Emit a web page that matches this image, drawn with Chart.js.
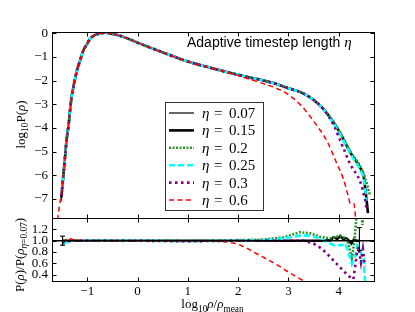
<!DOCTYPE html>
<html>
<head>
<meta charset="utf-8">
<script src="https://cdn.jsdelivr.net/npm/chart.js@4.4.1/dist/chart.umd.min.js"></script>
<style>
  html, body { margin: 0; padding: 0; background: #fff; }
</style>
</head>
<body>
<canvas id="c" width="415" height="312"></canvas>
<script>
// --- data ---
const etaLabels = ['0.07', '0.15', '0.2', '0.25', '0.3', '0.6'];

// common body of log10 P(rho), shared by all runs
const bodyX = [-1.50, -1.47, -1.44, -1.41, -1.37, -1.34, -1.31, -1.26, -1.21, -1.14, -1.075, -1.0, -0.94, -0.85, -0.74, -0.65, -0.55, -0.4, -0.2, 0, 0.25, 0.5, 0.75, 1.0, 1.25, 1.5, 1.75, 2.0, 2.25, 2.5, 2.75, 3.0, 3.25, 3.5, 3.7];
const bodyY = [-6.61, -5.91, -5.21, -4.51, -3.88, -3.24, -2.69, -2.12, -1.63, -1.14, -0.72, -0.45, -0.23, -0.08, -0.01, 0.02, 0.0, -0.08, -0.22, -0.40, -0.61, -0.81, -1.01, -1.20, -1.35, -1.49, -1.63, -1.76, -1.88, -2.0, -2.14, -2.33, -2.5, -2.82, -3.22];

// low-density heads and high-density tails per run
const head007X = [-1.52], head007Y = [-7.1];
const tail007X = [3.9, 4.06, 4.23, 4.43, 4.49, 4.56, 4.58];
const tail007Y = [-3.8, -4.37, -5.05, -5.72, -6.05, -7.3, -7.55];
const head015X = [-1.515], head015Y = [-6.95];
const tail015X = [3.9, 4.06, 4.23, 4.43, 4.49, 4.55, 4.58];
const tail015Y = [-3.78, -4.35, -5.05, -5.7, -6.0, -7.0, -7.6];
const head02X = [], head02Y = [];
const tail02X = [3.9, 4.06, 4.23, 4.43, 4.52, 4.62];
const tail02Y = [-3.76, -4.33, -5.0, -5.65, -6.1, -6.85];
const head025X = [], head025Y = [];
const tail025X = [3.9, 4.06, 4.23, 4.43, 4.5, 4.55];
const tail025Y = [-3.82, -4.4, -5.1, -5.8, -6.2, -7.1];
const head03X = [-1.51], head03Y = [-6.85];
const tail03X = [3.9, 4.09, 4.23, 4.43, 4.52, 4.56];
const tail03Y = [-3.9, -4.85, -5.55, -6.3, -7.03, -7.5];
const head06X = [-1.59, -1.555, -1.525], head06Y = [-7.9, -7.35, -6.95];
const tail06X = [2.0, 2.25, 2.5, 2.75, 3.0, 3.25, 3.5, 3.77, 3.96, 4.09, 4.19, 4.23, 4.3, 4.34];
const tail06Y = [-1.79, -1.96, -2.13, -2.32, -2.6, -3.05, -3.72, -4.58, -5.5, -6.15, -6.9, -7.2, -7.2, -7.95];

// ratio P(rho)/P(rho_{eta=0.07})
const ratio015X = [-1.5, -1.3, 0, 2, 3, 3.7, 3.83, 3.9, 3.97, 4.03, 4.09, 4.15, 4.2, 4.25, 4.3, 4.35, 4.4];
const ratio015Y = [1.0, 1.0, 1.0, 1.0, 1.0, 1.0, 1.01, 1.06, 1.03, 1.08, 1.03, 1.04, 1.0, 0.95, 1.02, 1.0, 1.0];
const ratio02X = [-1.5, -1.4, -1.0, 0, 1.0, 2.0, 2.5, 2.9, 3.23, 3.43, 3.62, 3.83, 4.03, 4.12, 4.19, 4.26, 4.31, 4.36, 4.45, 4.47, 4.49];
const ratio02Y = [0.98, 1.01, 1.0, 1.0, 1.0, 1.01, 1.02, 1.06, 1.15, 1.13, 1.07, 1.04, 1.09, 1.05, 0.95, 0.68, 1.0, 1.5, 1.5, 1.28, 1.5];
const ratio025X = [-1.5, -1.45, -1.3, 0, 1.0, 2.0, 2.6, 2.9, 3.23, 3.43, 3.62, 3.76, 3.9, 4.06, 4.13, 4.19, 4.26, 4.33, 4.37, 4.41, 4.49, 4.53];
const ratio025Y = [0.93, 0.96, 1.0, 1.0, 0.99, 1.0, 1.01, 1.04, 1.09, 1.09, 1.04, 0.98, 0.92, 0.92, 0.95, 0.8, 0.59, 0.74, 0.92, 0.86, 0.68, 0.2];
const ratio03X = [-1.5, -1.3, 0, 1, 2, 3, 3.3, 3.5, 3.66, 3.8, 3.93, 4.06, 4.19, 4.29, 4.36, 4.39, 4.44, 4.48, 4.52];
const ratio03Y = [0.97, 1.0, 1.0, 0.99, 1.0, 1.0, 1.0, 0.95, 0.86, 0.74, 0.62, 0.5, 0.38, 0.32, 0.77, 0.89, 0.62, 0.85, 0.55];
const ratio06X = [-1.5, -1.42, -1.35, -1.25, -1.0, 0, 1.0, 1.5, 1.75, 1.97, 2.17, 2.37, 2.6, 2.8, 3.05, 3.3, 3.45];
const ratio06Y = [0.98, 1.02, 1.04, 1.01, 1.0, 1.0, 1.0, 1.0, 0.98, 0.95, 0.87, 0.77, 0.66, 0.56, 0.42, 0.29, 0.2];
const refX = [-1.70, 4.70], refY = [1, 1];
const errLeftX = [-1.49, -1.49], errLeftY = [0.92, 1.08];
const errRightX = [4.41, 4.41], errRightY = [0.83, 1.23];

const xTicks = [-1, 0, 1, 2, 3, 4];
const yTicks = [0, -1, -2, -3, -4, -5, -6, -7];
const ratioTicks = [0.4, 0.6, 0.8, 1.0, 1.2];

// --- helpers ---
const pts = (xs, ys) => xs.map((x, i) => ({ x, y: ys[i] }));
const bodyUpTo = (lim) => {
  const n = bodyX.filter(x => x <= lim).length;
  return [bodyX.slice(0, n), bodyY.slice(0, n)];
};
const run = (hx, hy, tx, ty, lim) => {
  const [bx, by] = bodyUpTo(lim);
  return pts([...hx, ...bx, ...tx], [...hy, ...by, ...ty]);
};
const minus = v => (v < 0 ? '\u2212' + Math.abs(v) : String(v));

const styles = [
  { color: '#000000', width: 1.2, dash: [] },
  { color: '#000000', width: 2.6, dash: [] },
  { color: '#2a952a', width: 2.6, dash: [2, 1.5] },
  { color: '#00ffff', width: 2.6, dash: [6, 3] },
  { color: '#800080', width: 2.6, dash: [2.5, 3.5] },
  { color: '#ff0000', width: 1.5, dash: [5, 3.5] }
];

const topData = [
  run(head007X, head007Y, tail007X, tail007Y, 3.7),
  run(head015X, head015Y, tail015X, tail015Y, 3.7),
  run(head02X, head02Y, tail02X, tail02Y, 3.7),
  run(head025X, head025Y, tail025X, tail025Y, 3.7),
  run(head03X, head03Y, tail03X, tail03Y, 3.7),
  run(head06X, head06Y, tail06X, tail06Y, 1.75)
];

const datasets = [];
topData.forEach((d, i) => {
  datasets.push({
    label: '\u03b7 = ' + etaLabels[i], data: d, yAxisID: 'y', legendRow: i,
    borderColor: styles[i].color, borderWidth: styles[i].width, borderDash: styles[i].dash,
    cubicInterpolationMode: 'monotone', order: 20 - i
  });
});
[[ratio015X, ratio015Y, 1], [ratio02X, ratio02Y, 2], [ratio025X, ratio025Y, 3], [ratio03X, ratio03Y, 4], [ratio06X, ratio06Y, 5]].forEach(([xs, ys, i]) => {
  datasets.push({
    data: pts(xs, ys), yAxisID: 'yr',
    borderColor: styles[i].color, borderWidth: styles[i].width, borderDash: styles[i].dash,
    order: 20 - i
  });
});
datasets.push({ data: pts(refX, refY), yAxisID: 'yr', borderColor: '#000', borderWidth: 1.5, order: 2 });
[[errLeftX, errLeftY], [errRightX, errRightY]].forEach(([xs, ys]) => {
  datasets.push({
    data: pts(xs, ys), yAxisID: 'yr', borderColor: '#000', borderWidth: 1.1, order: 1,
    pointStyle: 'line', pointRadius: 2.5, pointBorderColor: '#000', pointBorderWidth: 1.1
  });
});

const SERIF = '"Liberation Serif", "DejaVu Serif", serif';
const SANS = '"Liberation Sans", Arial, sans-serif';

// text with italic / subscript pieces; style: r, i, sr, si
function richText(ctx, parts, cx, cy, size, rotate) {
  const fontOf = st => (st.includes('i') ? 'italic ' : '') + (st[0] === 's' ? size * 0.72 : size) + 'px ' + SERIF;
  let w = 0;
  parts.forEach(([t, st]) => { ctx.font = fontOf(st); w += ctx.measureText(t).width; });
  ctx.save();
  ctx.translate(cx, cy);
  if (rotate) ctx.rotate(-Math.PI / 2);
  ctx.fillStyle = '#000';
  ctx.textBaseline = 'alphabetic';
  ctx.textAlign = 'left';
  let x = -w / 2;
  parts.forEach(([t, st]) => {
    ctx.font = fontOf(st);
    ctx.fillText(t, x, size * 0.32 + (st[0] === 's' ? size * 0.28 : 0));
    x += ctx.measureText(t).width;
  });
  ctx.restore();
}

const decor = {
  id: 'decor',
  afterDatasetsDraw(chart) {
    const ctx = chart.ctx;
    const xs = chart.scales.x;
    ctx.save();
    ctx.strokeStyle = '#000';
    ctx.lineWidth = 1;
    ['y', 'yr'].forEach(id => {
      const ys = chart.scales[id];
      const l = Math.round(xs.left) + 0.5, r = Math.round(xs.right) + 0.5;
      const t = Math.round(ys.top) + 0.5, b = Math.round(ys.bottom) + 0.5;
      ctx.strokeRect(l, t, r - l, b - t);
      ctx.beginPath();
      xs.ticks.forEach(tk => {
        const px = Math.round(xs.getPixelForValue(tk.value)) + 0.5;
        ctx.moveTo(px, t); ctx.lineTo(px, t + 4);
        ctx.moveTo(px, b); ctx.lineTo(px, b - 4);
      });
      ys.ticks.forEach(tk => {
        const py = Math.round(ys.getPixelForValue(tk.value)) + 0.5;
        ctx.moveTo(l, py); ctx.lineTo(l + 4, py);
        ctx.moveTo(r, py); ctx.lineTo(r - 4, py);
      });
      ctx.stroke();
    });
    ctx.restore();
  },
  afterDraw(chart) {
    const ctx = chart.ctx;
    // panel title
    ctx.save();
    ctx.fillStyle = '#000';
    ctx.font = '14px ' + SANS;
    ctx.textBaseline = 'alphabetic';
    const title = 'Adaptive timestep length ';
    ctx.fillText(title, 187, 47);
    const tw = ctx.measureText(title).width;
    ctx.font = 'italic 15px ' + SERIF;
    ctx.fillText('\u03b7', 187 + tw, 47);
    ctx.restore();

    // legend
    const bx = 165, by = 102, bw = 98, bh = 108;
    ctx.save();
    ctx.fillStyle = '#fff';
    ctx.fillRect(bx, by, bw, bh);
    ctx.strokeStyle = '#333';
    ctx.lineWidth = 1;
    ctx.strokeRect(bx + 0.5, by + 0.5, bw, bh);
    chart.data.datasets.filter(d => d.legendRow !== undefined).forEach(d => {
      const yy = 113 + d.legendRow * 17.4;
      ctx.strokeStyle = d.borderColor;
      ctx.lineWidth = d.borderWidth;
      ctx.setLineDash(d.borderDash);
      ctx.beginPath();
      ctx.moveTo(169, yy); ctx.lineTo(194, yy);
      ctx.stroke();
      ctx.setLineDash([]);
      ctx.fillStyle = '#000';
      ctx.textBaseline = 'middle';
      ctx.font = 'italic 15px ' + SERIF;
      ctx.fillText('\u03b7', 202, yy + 1);
      ctx.font = '15px ' + SERIF;
      ctx.fillText('=', 214, yy + 1);
      ctx.fillText(etaLabels[d.legendRow], 229, yy + 1);
    });
    ctx.restore();

    // axis titles
    richText(ctx, [['log', 'r'], ['10', 'sr'], ['P(', 'r'], ['\u03c1', 'i'], [')', 'r']], 20.5, 124.5, 13, true);
    richText(ctx, [['P(', 'r'], ['\u03c1', 'i'], [')/P(', 'r'], ['\u03c1', 'i'], ['\u03b7', 'si'], ['=0.07', 'sr'], [')', 'r']], 19.5, 255, 13, true);
    richText(ctx, [['log', 'r'], ['10', 'sr'], ['\u03c1', 'i'], ['/', 'r'], ['\u03c1', 'i'], ['mean', 'sr']], 212.5, 304, 13, false);
  }
};

const tickFont = { family: SERIF, size: 13 };
const noGrid = { display: false, drawTicks: false };

new Chart(document.getElementById('c'), {
  type: 'line',
  data: { datasets },
  options: {
    responsive: false,
    animation: false,
    devicePixelRatio: 1,
    layout: { padding: { top: 32, right: 41, left: 0, bottom: 0 } },
    plugins: { legend: { display: false }, tooltip: { enabled: false } },
    elements: { point: { radius: 0 }, line: { tension: 0 } },
    scales: {
      x: {
        type: 'linear', min: -1.70, max: 4.70,
        grid: noGrid, border: { display: false },
        afterBuildTicks: s => { s.ticks = xTicks.map(v => ({ value: v })); },
        ticks: { padding: 3, color: '#000', font: tickFont, callback: v => minus(v), maxRotation: 0, autoSkip: false },
        afterFit: s => { s.height = 31; }
      },
      y: {
        type: 'linear', position: 'left', stack: 'p', stackWeight: 186, weight: 2,
        min: -7.81, max: 0.05,
        grid: noGrid, border: { display: false },
        afterBuildTicks: s => { s.ticks = yTicks.map(v => ({ value: v })); },
        ticks: { autoSkip: false, padding: 4, color: '#000', font: tickFont, callback: v => minus(v) },
        afterFit: s => { s.width = 52; }
      },
      yr: {
        type: 'linear', position: 'left', stack: 'p', stackWeight: 63, weight: 1,
        min: 0.29, max: 1.40,
        grid: noGrid, border: { display: false },
        afterBuildTicks: s => { s.ticks = ratioTicks.map(v => ({ value: v })); },
        ticks: { autoSkip: false, padding: 4, color: '#000', font: tickFont, callback: v => v.toFixed(1) },
        afterFit: s => { s.width = 52; }
      }
    }
  },
  plugins: [decor]
});
</script>
</body>
</html>
